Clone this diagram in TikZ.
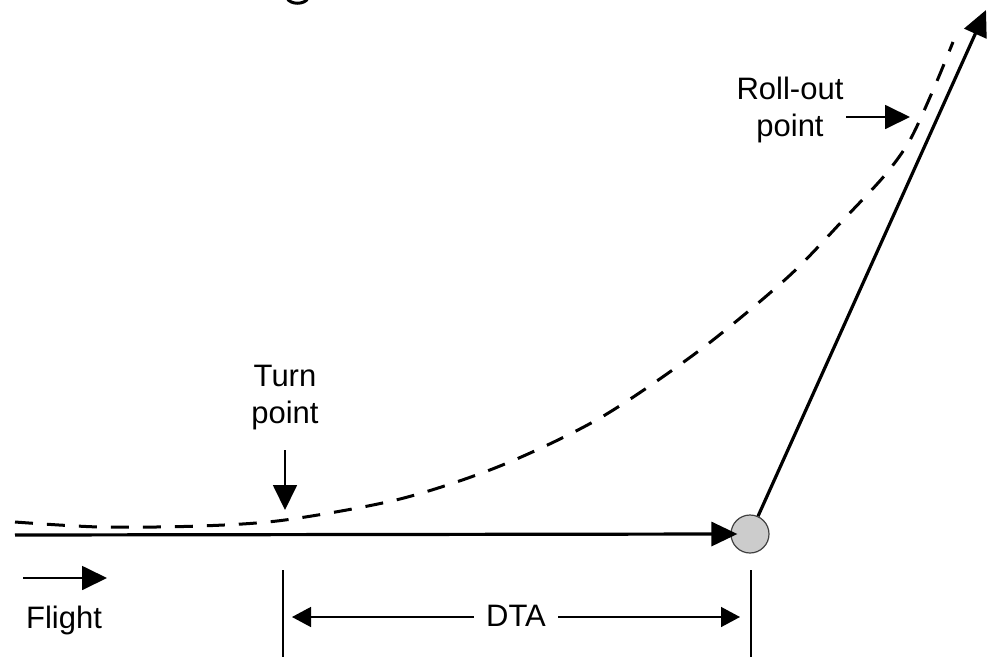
\documentclass[tikz,border=0pt]{standalone}
\usepackage{fontspec}
\setmainfont{Liberation Sans}
\usetikzlibrary{arrows.meta}
\begin{document}
\begin{tikzpicture}[x=1pt,y=-1pt,
  lbl/.style={inner sep=0pt, align=center, font=\fontsize{31}{37}\selectfont},
  mainline/.style={line width=3.2pt},
  bighead/.style={-{Triangle[length=26pt,width=24pt]}},
  smallarrow/.style={line width=1.8pt,-{Triangle[length=25pt,width=24pt]}},
  dimarrow/.style={line width=1.4pt,-{Triangle[length=19pt,width=20pt]}},
  dimline/.style={line width=1.4pt},
  curve/.style={line width=3pt, dash pattern=on 18pt off 14pt}]
\useasboundingbox (0,0) rectangle (988,656);
% cropped fragment at top
\draw[line width=3pt] (287,-2) .. controls (290,5) and (305,5) .. (308,-2);
% dashed path
\draw[curve] plot[smooth, tension=0.5] coordinates {(15,522) (100,527) (200,526) (285,520) (400,499) (500,466) (600,418) (700,350) (788,277) (846,217) (885,175) (910,140) (934,88) (953,42)};
% waypoint
\node[circle, minimum size=38pt, inner sep=0pt, fill=gray!40, draw=black!75, line width=1.2pt] (wp) at (750,534) {};
\coordinate (start) at (15,535);
\coordinate (top) at (986,10);
\draw[mainline,bighead,shorten >=-7pt] (start) -- (wp.west);
\draw[mainline,bighead] (wp) -- (top);
% labels
\node[lbl] (ro) at (790,110) {Roll-out\\point};
\coordinate (roA) at (846,117);
\coordinate (roB) at (910,117);
\draw[smallarrow] (roA) -- (roB);
\node[lbl] (tp) at (285,398) {Turn\\point};
\coordinate (tpA) at (285,450);
\coordinate (tpB) at (285,510);
\draw[smallarrow] (tpA) -- (tpB);
\node[lbl, anchor=base] (fl) at (64,628) {Flight};
\coordinate (flA) at (23,578);
\coordinate (flB) at (107,578);
\draw[smallarrow] (flA) -- (flB);
% DTA dimension
\coordinate (d1t) at (283,570);
\coordinate (d1b) at (283,660);
\coordinate (d2t) at (751,570);
\coordinate (d2b) at (751,660);
\draw[dimline] (d1t) -- (d1b);
\draw[dimline] (d2t) -- (d2b);
\node[lbl, anchor=base, inner xsep=12pt] (dta) at (516,626) {DTA};
\coordinate (dl) at (292,617);
\coordinate (dr) at (740,617);
\draw[dimarrow] (dta.west |- dl) -- (dl);
\draw[dimarrow] (dta.east |- dr) -- (dr);
\end{tikzpicture}
\end{document}
